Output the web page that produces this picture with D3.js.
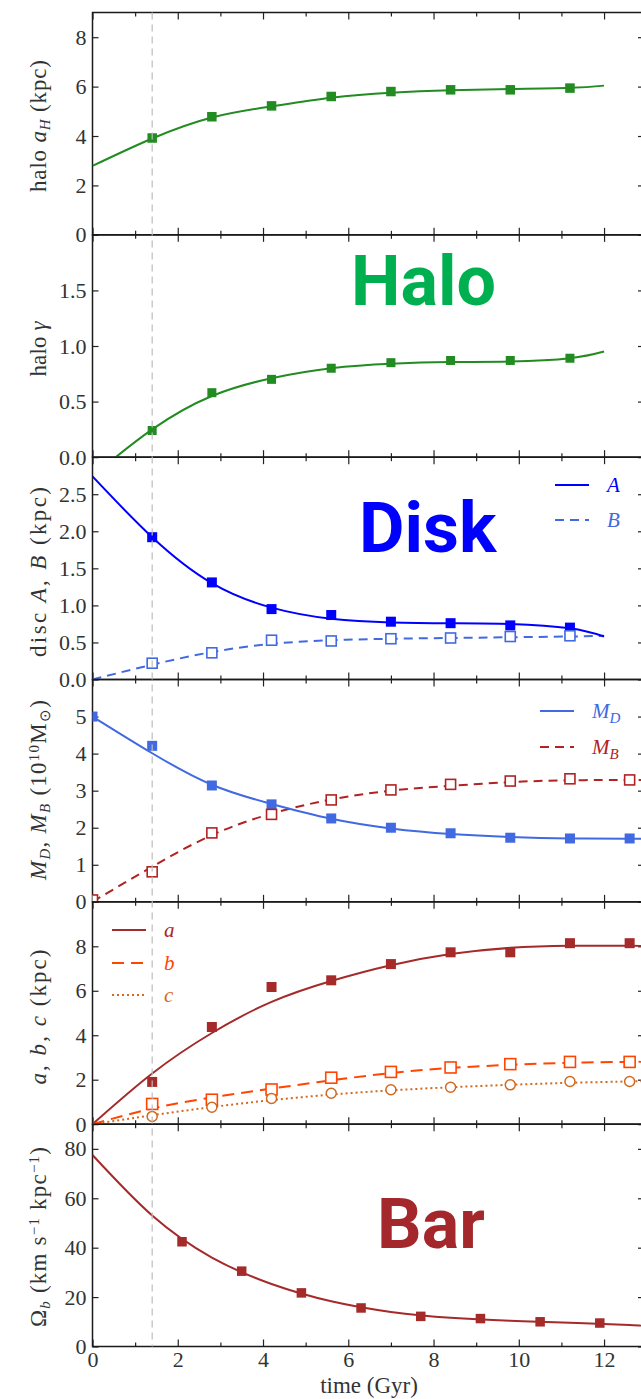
<!DOCTYPE html>
<meta charset="utf-8">
<head>
<script src="https://d3js.org/d3.v7.min.js"></script>
<style>
  body { margin: 0; background: #fff; }
  svg { display: block; }
  .tick text { font-family: "Liberation Serif", serif; font-size: 22px; fill: #333; }
  .tick line { stroke: #222; stroke-width: 1.2; }
  .domain { display: none; }
  .lab { font-family: "Liberation Serif", serif; font-size: 23px; fill: #333; }
  .leg { font-family: "Liberation Serif", serif; font-size: 21px; font-style: italic; }
  .big { font-family: Roboto, sans-serif; font-weight: 700; font-size: 70px; }
</style>
</head>
<body>
<svg></svg>
<script>
// marker times (Gyr)
var tMarks = [1.4, 2.8, 4.2, 5.6, 7.0, 8.4, 9.8, 11.2];
var tMarksLong = [0, 1.4, 2.8, 4.2, 5.6, 7.0, 8.4, 9.8, 11.2, 12.6];
var tMarksBar = [1.4, 2.8, 4.2, 5.6, 7.0, 8.4, 9.8, 11.2, 12.6];
var tMarksOmega = [2.1, 3.5, 4.9, 6.3, 7.7, 9.1, 10.5, 11.9];
// times where the fitted curves were read
var tFit = [0, 1.4, 2.8, 4.2, 5.6, 7.0, 8.4, 9.8, 11.2, 12.0];
var tFitLong = [0, 1.4, 2.8, 4.2, 5.6, 7.0, 8.4, 9.8, 11.2, 12.6, 12.9];

// halo
var haloA = [3.92, 4.78, 5.22, 5.6, 5.8, 5.87, 5.87, 5.94];
var haloAFit = [2.79, 3.9, 4.75, 5.2, 5.55, 5.75, 5.85, 5.9, 5.95, 6.04];
var haloGamma = [0.24, 0.58, 0.70, 0.80, 0.85, 0.87, 0.87, 0.89];
var haloGammaFit = [-0.17, 0.25, 0.55, 0.71, 0.80, 0.84, 0.855, 0.86, 0.89, 0.95];
// disc
var discA = [1.92, 1.31, 0.95, 0.87, 0.78, 0.76, 0.73, 0.70];
var discAFit = [2.74, 1.92, 1.30, 0.97, 0.82, 0.77, 0.76, 0.75, 0.69, 0.58];
var discB = [0.22, 0.36, 0.53, 0.52, 0.55, 0.56, 0.58, 0.59];
var discBFit = [0, 0.2, 0.37, 0.48, 0.53, 0.55, 0.56, 0.57, 0.58, 0.59];
// masses (1e10 Msun)
var massD = [5.0, 4.21, 3.14, 2.63, 2.25, 2.0, 1.85, 1.73, 1.71, 1.71];
var massDFit = [5.0, 4.01, 3.16, 2.64, 2.24, 1.98, 1.83, 1.75, 1.71, 1.70, 1.70];
var massB = [0.05, 0.81, 1.86, 2.36, 2.75, 3.02, 3.17, 3.26, 3.32, 3.29];
var massBFit = [0, 0.95, 1.8, 2.38, 2.76, 3.0, 3.13, 3.23, 3.28, 3.29, 3.29];
// bar axes (kpc)
var barA = [1.9, 4.37, 6.17, 6.47, 7.2, 7.73, 7.73, 8.14, 8.14];
var barAFit = [0, 2.28, 4.1, 5.5, 6.44, 7.15, 7.65, 7.93, 8.02, 8.02, 8.02];
var barB = [0.91, 1.1, 1.56, 2.09, 2.35, 2.55, 2.70, 2.8, 2.8];
var barBFit = [0, 0.7, 1.2, 1.6, 1.97, 2.3, 2.53, 2.67, 2.76, 2.8, 2.8];
var barC = [0.35, 0.76, 1.16, 1.39, 1.55, 1.66, 1.77, 1.92, 1.92];
var barCFit = [0, 0.4, 0.77, 1.08, 1.33, 1.52, 1.66, 1.77, 1.86, 1.92, 1.93];
// pattern speed
var omega = [42.4, 30.5, 21.7, 15.6, 12.2, 11.3, 10.0, 9.5];
var omegaFit = [77.5, 53, 36, 25.3, 18.3, 14.0, 11.6, 10.4, 9.6, 8.7, 8.4];

var xTicks = [0, 2, 4, 6, 8, 10, 12];
var xMinor = [1, 3, 5, 7, 9, 11];
var yTicks = [[0, 2, 4, 6, 8], [0, 0.5, 1, 1.5], [0, 0.5, 1, 1.5, 2, 2.5], [0, 1, 2, 3, 4, 5], [0, 2, 4, 6, 8], [0, 20, 40, 60, 80]];
var yMax = [9, 2, 3, 6, 10, 90];

var width = 641, height = 1399;
var top0 = 12.5, bottom0 = 1346.5;
var ph = (bottom0 - top0) / 6;
var x = d3.scaleLinear().domain([0, 12.89]).range([92.5, 642]);

var svg = d3.select('svg').attr('width', width).attr('height', height);
var defs = svg.append('defs');

var panels = [];
for (var i = 0; i < 6; i++) {
  var t = top0 + i * ph;
  var y = d3.scaleLinear().domain([0, yMax[i]]).range([t + ph, t]);
  defs.append('clipPath').attr('id', 'clip' + i)
    .append('rect').attr('x', x(0)).attr('y', t).attr('width', x.range()[1] - x(0)).attr('height', ph);
  panels.push({ top: t, y: y, g: svg.append('g'), plot: null });
}

// dashed marker of t = 1.4 Gyr through all panels
svg.append('line')
  .attr('x1', x(1.4)).attr('x2', x(1.4)).attr('y1', top0).attr('y2', bottom0)
  .attr('stroke', '#bdbdbd').attr('stroke-width', 1.2).attr('stroke-dasharray', '7,5');

panels.forEach(function (p, i) {
  var fmt = (i == 1 || i == 2) ? d3.format('.1f') : d3.format('d');
  p.g.append('g').attr('transform', 'translate(' + x(0) + ',0)')
    .call(d3.axisLeft(p.y).tickValues(yTicks[i]).tickFormat(fmt).tickSize(-6).tickSizeOuter(0).tickPadding(6));
  p.g.append('g').attr('transform', 'translate(' + x.range()[1] + ',0)')
    .call(d3.axisRight(p.y).tickValues(yTicks[i]).tickFormat('').tickSize(-4).tickSizeOuter(0));
  var yb = p.top + ph;
  p.g.append('g').attr('transform', 'translate(0,' + yb + ')')
    .call(d3.axisBottom(x).tickValues(xTicks).tickSize(-7).tickSizeOuter(0).tickPadding(5)
      .tickFormat(i == 5 ? d3.format('d') : ''));
  p.g.append('g').attr('transform', 'translate(0,' + yb + ')')
    .call(d3.axisBottom(x).tickValues(xMinor).tickSize(-4).tickSizeOuter(0).tickFormat(''));
  p.g.append('g').attr('transform', 'translate(0,' + p.top + ')')
    .call(d3.axisTop(x).tickValues(xTicks).tickSize(-7).tickSizeOuter(0).tickFormat(''));
  p.g.append('g').attr('transform', 'translate(0,' + p.top + ')')
    .call(d3.axisTop(x).tickValues(xMinor).tickSize(-4).tickSizeOuter(0).tickFormat(''));
  p.g.append('rect').attr('x', x(0)).attr('y', p.top).attr('width', x.range()[1] - x(0)).attr('height', ph)
    .attr('fill', 'none').attr('stroke', '#1a1a1a').attr('stroke-width', 1.5);
  p.plot = p.g.append('g').attr('clip-path', 'url(#clip' + i + ')');
});

function curve(p, ts, vs, color, dash) {
  var line = d3.line().x(function (d) { return x(d[0]); }).y(function (d) { return p.y(d[1]); })
    .curve(d3.curveNatural);
  p.plot.append('path').datum(d3.zip(ts, vs)).attr('d', line)
    .attr('fill', 'none').attr('stroke', color).attr('stroke-width', 2)
    .attr('stroke-dasharray', dash || null);
}

function squares(p, ts, vs, color, open, size) {
  var s = size || 10;
  p.plot.selectAll(null).data(d3.zip(ts, vs)).enter().append('rect')
    .attr('x', function (d) { return x(d[0]) - s / 2; })
    .attr('y', function (d) { return p.y(d[1]) - s / 2; })
    .attr('width', s).attr('height', s)
    .attr('fill', open ? '#fff' : color)
    .attr('stroke', color).attr('stroke-width', open ? 1.6 : 0);
}

function circles(p, ts, vs, color) {
  p.plot.selectAll(null).data(d3.zip(ts, vs)).enter().append('circle')
    .attr('cx', function (d) { return x(d[0]); })
    .attr('cy', function (d) { return p.y(d[1]); })
    .attr('r', 5).attr('fill', '#fff').attr('stroke', color).attr('stroke-width', 1.5);
}

var green = '#228b22', blue = '#0000ff', royal = '#4169e1', brick = '#b22222',
    brown = '#a52a2a', orange = '#ff4500', choc = '#d2691e';

curve(panels[0], tFit, haloAFit, green);
squares(panels[0], tMarks, haloA, green, false, 9.5);
curve(panels[1], tFit, haloGammaFit, green);
squares(panels[1], tMarks, haloGamma, green, false, 9);

curve(panels[2], tFit, discBFit, royal, '9,6');
curve(panels[2], tFit, discAFit, blue);
squares(panels[2], tMarks, discA, blue, false, 10);
squares(panels[2], tMarks, discB, royal, true, 10);

curve(panels[3], tFitLong, massBFit, brick, '9,6');
curve(panels[3], tFitLong, massDFit, royal);
squares(panels[3], tMarksLong, massD, royal, false, 10);
squares(panels[3], tMarksLong, massB, brick, true, 10);

curve(panels[4], tFitLong, barAFit, brown);
curve(panels[4], tFitLong, barBFit, orange, '12,7');
curve(panels[4], tFitLong, barCFit, choc, '2,3');
squares(panels[4], tMarksBar, barA, brown, false, 10);
squares(panels[4], tMarksBar, barB, orange, true, 11);
circles(panels[4], tMarksBar, barC, choc);

curve(panels[5], tFitLong, omegaFit, brown);
squares(panels[5], tMarksOmega, omega, brown, false, 9.5);

// legends
function legend(x0, yy, color, dash, parts) {
  svg.append('line').attr('x1', x0).attr('x2', x0 + 34).attr('y1', yy).attr('y2', yy)
    .attr('stroke', color).attr('stroke-width', 2).attr('stroke-dasharray', dash || null);
  var t = svg.append('text').attr('class', 'leg').attr('x', x0 + 52).attr('y', yy + 7).attr('fill', color);
  t.append('tspan').text(parts[0]);
  if (parts[1]) t.append('tspan').attr('dy', 5).attr('font-size', 15).text(parts[1]);
}
legend(555, 485, blue, null, ['A']);
legend(555, 520, royal, '9,6', ['B']);
legend(540, 711, royal, null, ['M', 'D']);
legend(540, 747, brick, '9,6', ['M', 'B']);
legend(112, 930, brown, null, ['a']);
legend(112, 963, orange, '12,7', ['b']);
legend(112, 995, choc, '2,3', ['c']);

// y labels: [center y, length, pieces]  piece = [text, italic, shift]
var yLabels = [
  [126, 132, [['halo ', 0, 0], ['a', 1, 0], ['H', 1, 4], [' (kpc)', 0, -4]]],
  [349, 55, [['halo ', 0, 0], ['γ', 1, 0]]],
  [572, 170, [['disc ', 0, 0], ['A', 1, 0], [',  ', 0, 0], ['B', 1, 0], [' (kpc)', 0, 0]]],
  [790, 180, [['M', 1, 0], ['D', 1, 4], [', ', 0, -4], ['M', 1, 0], ['B', 1, 4], [' (10', 0, -4], ['10', 0, -7], ['M', 0, 7], ['⊙', 0, 4], [')', 0, -4]]],
  [1017, 135, [['a', 1, 0], [',  ', 0, 0], ['b', 1, 0], [',  ', 0, 0], ['c', 1, 0], [' (kpc)', 0, 0]]],
  [1237, 180, [['Ω', 0, 0], ['b', 1, 4], [' (km s', 0, -4], ['−1', 0, -7], [' kpc', 0, 7], ['−1', 0, -7], [')', 0, 7]]]
];
yLabels.forEach(function (L) {
  var t = svg.append('text').attr('class', 'lab')
    .attr('transform', 'translate(46,' + L[0] + ') rotate(-90)')
    .attr('text-anchor', 'middle')
    .attr('textLength', L[1]).attr('lengthAdjust', 'spacing');
  L[2].forEach(function (q) {
    var small = (q[2] == 4 || q[2] == -7);
    t.append('tspan').attr('dy', q[2]).attr('font-style', q[1] ? 'italic' : null)
      .attr('font-size', small ? 15 : null).text(q[0]);
  });
});

svg.append('text').attr('class', 'lab').attr('x', 369).attr('y', 1393)
  .attr('font-size', 21).attr('text-anchor', 'middle').text('time (Gyr)');

svg.append('text').attr('class', 'big').attr('x', 351).attr('y', 305).attr('fill', '#00b050').text('Halo');
svg.append('text').attr('class', 'big').attr('x', 359).attr('y', 552).attr('fill', '#0000ff').text('Disk');
svg.append('text').attr('class', 'big').attr('x', 377).attr('y', 1248).attr('fill', '#a4282b').text('Bar');
</script>
</body>
